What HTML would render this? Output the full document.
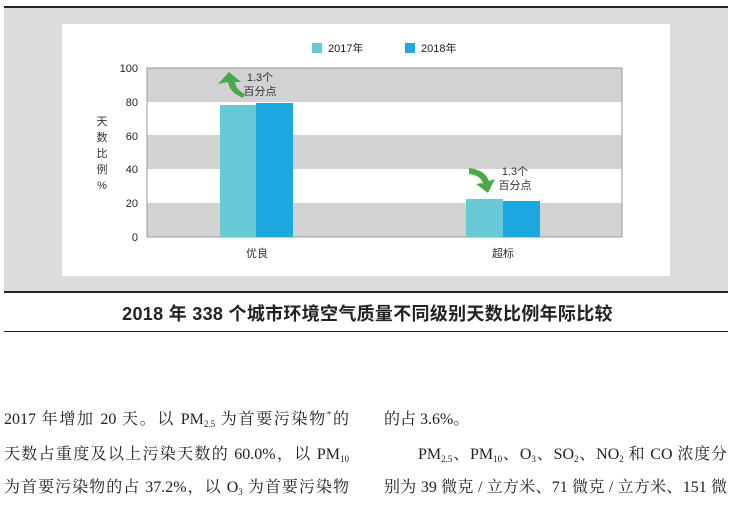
<!DOCTYPE html>
<html><head><meta charset="utf-8"><style>
body{margin:0;width:735px;height:506px;background:#fff;overflow:hidden;position:relative;font-family:"Liberation Serif","Noto Serif CJK SC",serif}
.t{position:absolute;white-space:nowrap;font-size:16px;color:#222}
.j{text-align:justify;text-align-last:justify}
sub{font-size:9px;vertical-align:-3px}
</style></head><body>
<div style="position:absolute;left:4px;top:6px;width:724px;height:2px;background:#222"></div>
<div style="position:absolute;left:4px;top:8px;width:724px;height:284px;background:#dcdcdc"></div>
<div style="position:absolute;left:4px;top:291px;width:724px;height:2px;background:#222"></div>
<svg style="position:absolute;left:0;top:0" width="735" height="300" font-family="Liberation Sans, Noto Sans CJK SC, sans-serif">
<rect x="62" y="24" width="608" height="252" fill="#fff"/>
<rect x="147" y="68" width="475" height="34" fill="#d2d2d4"/>
<rect x="147" y="135" width="475" height="34" fill="#d2d2d4"/>
<rect x="147" y="203" width="475" height="34" fill="#d2d2d4"/>
<rect x="147" y="68" width="475" height="169" fill="none" stroke="#999" stroke-width="1"/>
<rect x="220" y="105" width="36" height="132" fill="#68c8d6"/>
<rect x="256" y="103" width="37" height="134" fill="#1ea6de"/>
<rect x="466" y="199" width="37" height="38" fill="#68c8d6"/>
<rect x="503" y="201" width="37" height="36" fill="#1ea6de"/>
<g font-size="11" fill="#222" text-anchor="end">
<text x="138" y="72">100</text><text x="138" y="106">80</text><text x="138" y="140">60</text><text x="138" y="173">40</text><text x="138" y="207">20</text><text x="138" y="241">0</text>
</g>
<g font-size="11" fill="#333" text-anchor="middle">
<text x="102" y="125">天</text><text x="102" y="141">数</text><text x="102" y="157">比</text><text x="102" y="173">例</text><text x="102" y="189">%</text>
<text x="257" y="257">优良</text><text x="503" y="257">超标</text>
<text x="260" y="81">1.3个</text><text x="260" y="95">百分点</text>
<text x="515" y="175">1.3个</text><text x="515" y="189">百分点</text>
</g>
<rect x="312" y="43" width="10" height="10" fill="#68c8d6"/>
<text x="328" y="52" font-size="11" fill="#222">2017年</text>
<rect x="405" y="43" width="10" height="10" fill="#1ea6de"/>
<text x="421" y="52" font-size="11" fill="#222">2018年</text>
<path d="M243 98 Q229 92 228 82 L218 84 L229 72 L241 82 L235 82 Q236 90 245 94 Z" fill="#4aa84a"/>
<path d="M469 168 Q485 170 489 181 L495 179 L488 193 L476 184 L483 183 Q480 175 469 174 Z" fill="#4aa84a"/>
</svg>
<div class="t" style="left:0;width:735px;text-align:center;top:300px;font-family:'Liberation Sans','Noto Sans CJK SC',sans-serif;font-weight:bold;font-size:18px;letter-spacing:0.3px">2018 年 338 个城市环境空气质量不同级别天数比例年际比较</div>
<div style="position:absolute;left:4px;top:331px;width:724px;height:1px;background:#222"></div>
<div class="t j" style="left:4px;width:345px;top:406px">2017 年增加 20 天。以 PM<sub>2.5</sub> 为首要污染物<sup style="font-size:9px">*</sup>的</div>
<div class="t j" style="left:4px;width:345px;top:441px">天数占重度及以上污染天数的 60.0%，以 PM<sub>10</sub></div>
<div class="t j" style="left:4px;width:345px;top:474px">为首要污染物的占 37.2%，以 O<sub>3</sub> 为首要污染物</div>
<div class="t" style="left:384px;top:406px">的占 3.6%。</div>
<div class="t j" style="left:418px;width:309px;top:441px">PM<sub>2.5</sub>、PM<sub>10</sub>、O<sub>3</sub>、SO<sub>2</sub>、NO<sub>2</sub> 和 CO 浓度分</div>
<div class="t j" style="left:384px;width:343px;top:474px">别为 39 微克 / 立方米、71 微克 / 立方米、151 微</div>
</body></html>
